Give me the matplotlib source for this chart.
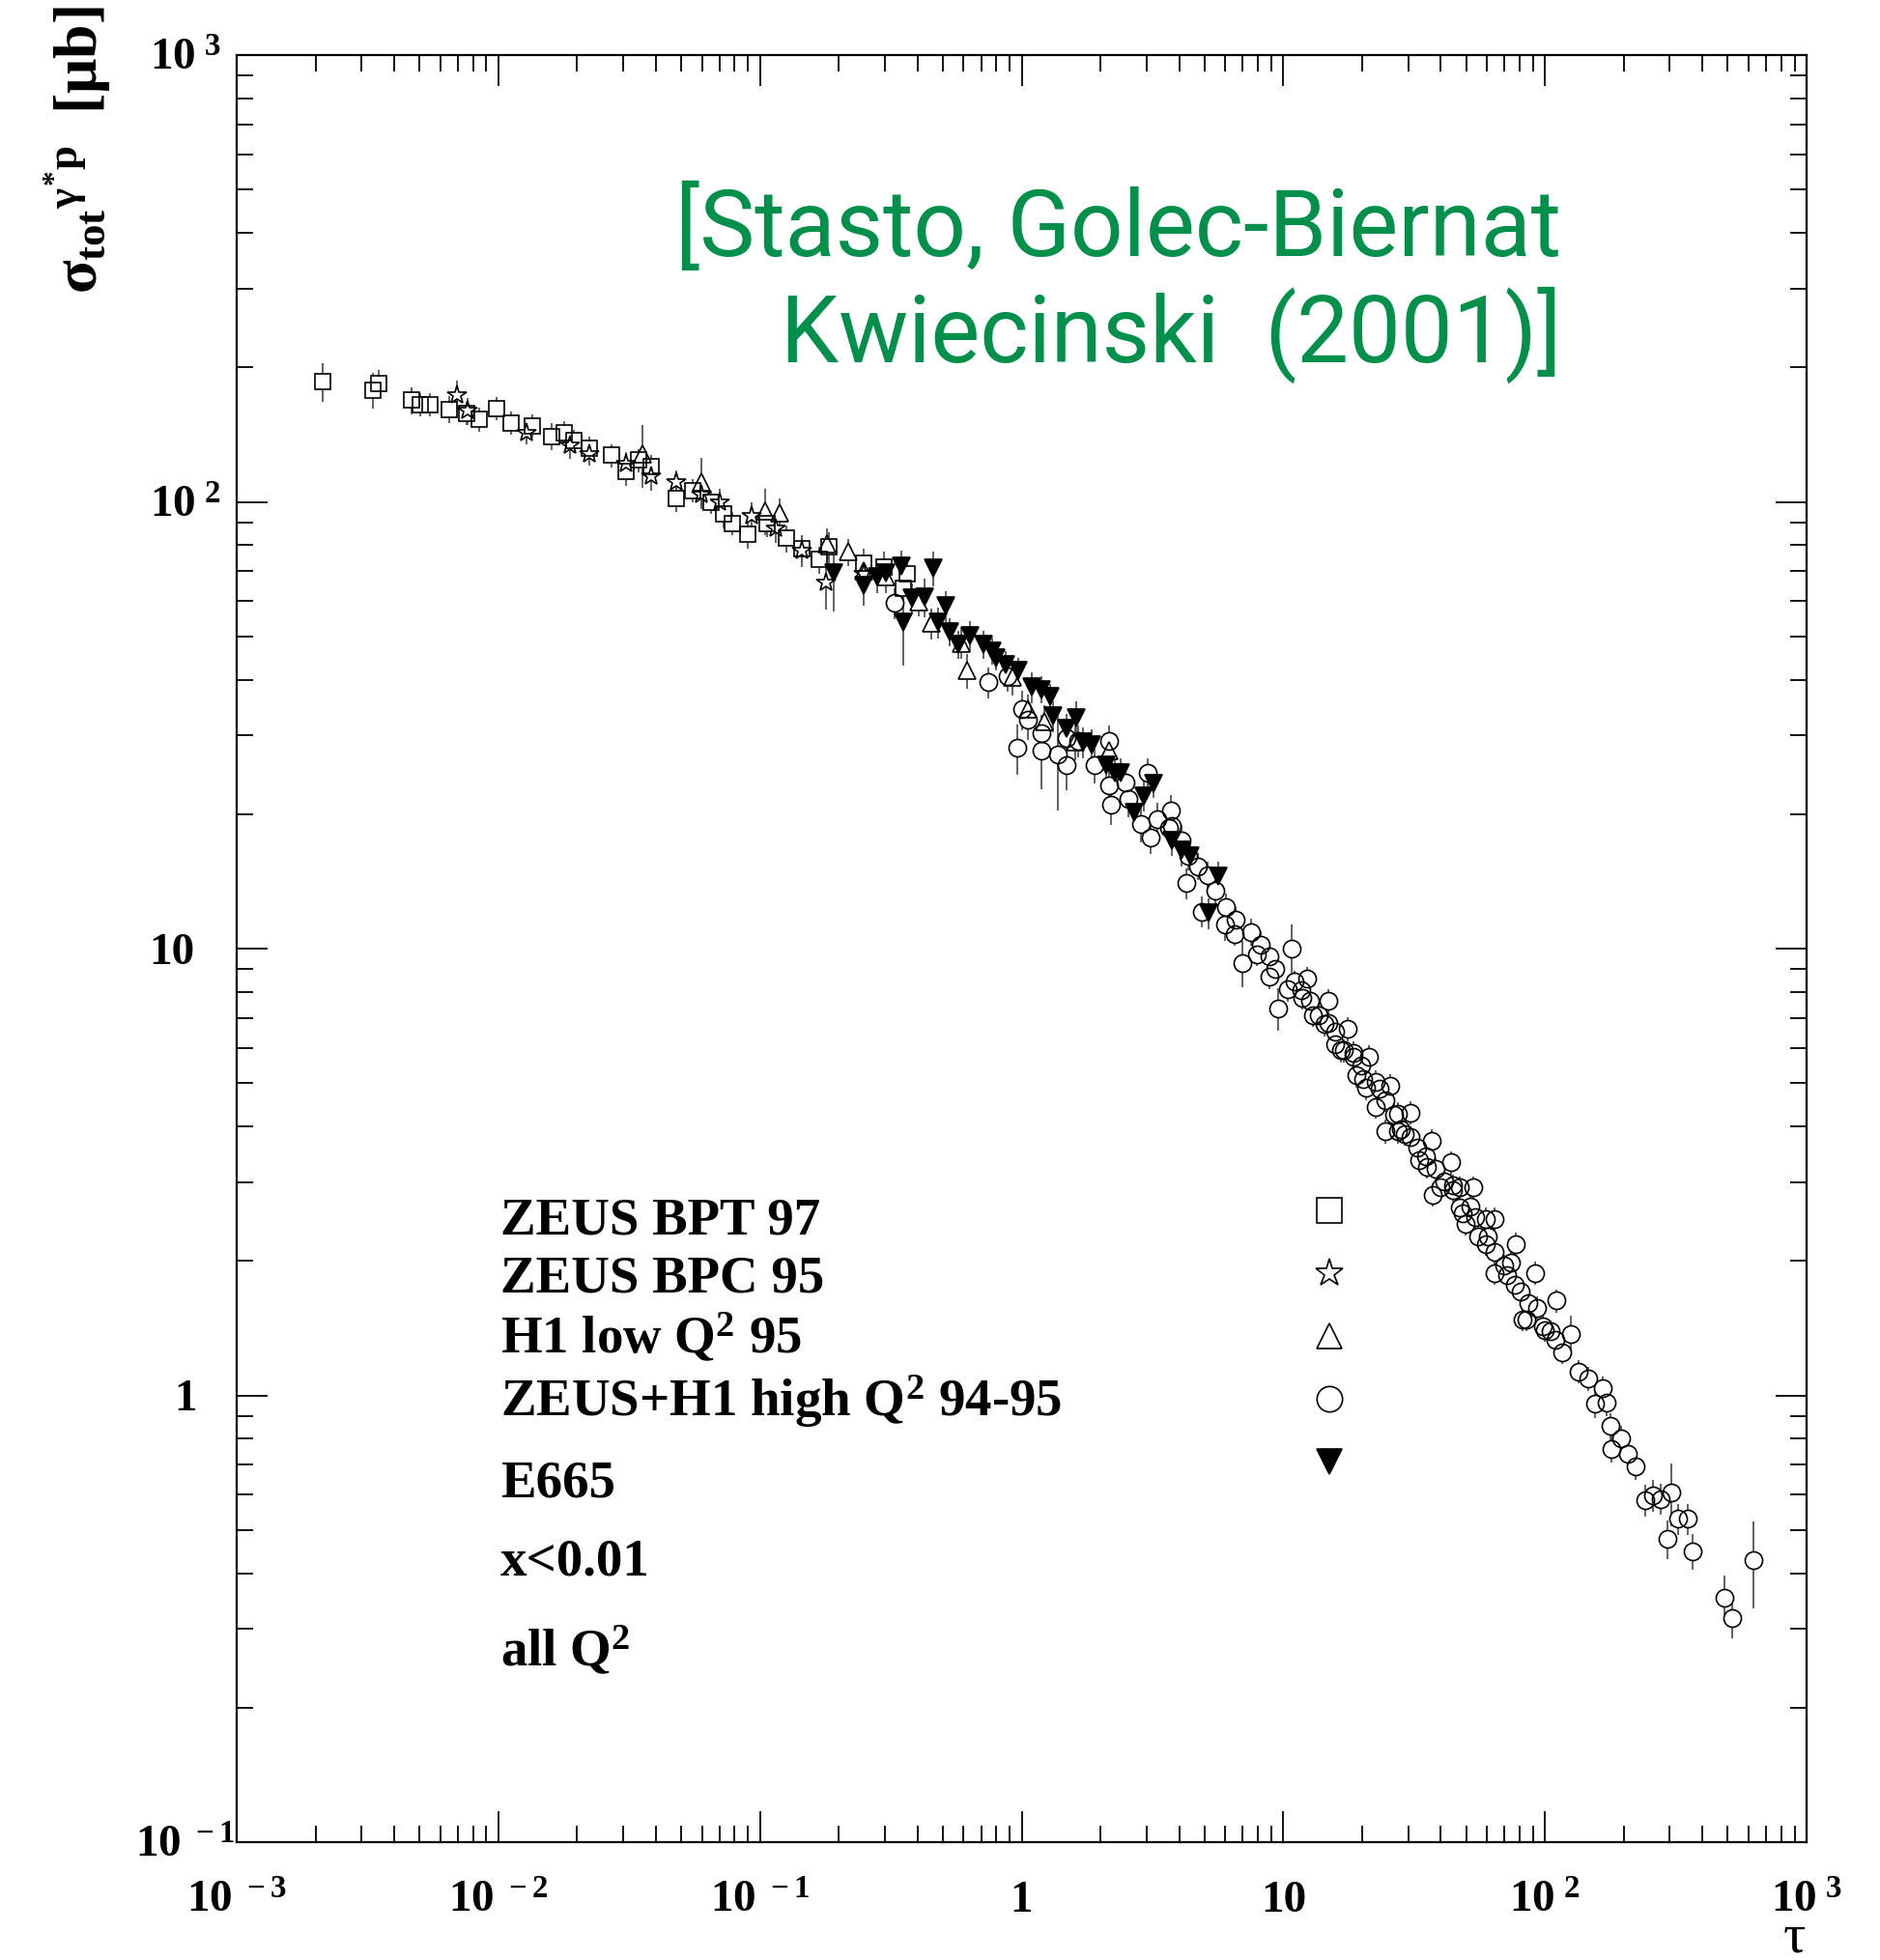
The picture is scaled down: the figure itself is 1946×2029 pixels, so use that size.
import numpy as np
import matplotlib
matplotlib.use("Agg")
import matplotlib.pyplot as plt
import matplotlib.transforms as mtransforms
from matplotlib.lines import Line2D
from matplotlib.ticker import LogLocator, NullFormatter

plt.rcParams["font.family"] = ["Liberation Serif", "DejaVu Serif"]
plt.rcParams["font.weight"] = "bold"
plt.rcParams["mathtext.fontset"] = "custom"
plt.rcParams["mathtext.rm"] = "Liberation Serif:bold"
plt.rcParams["mathtext.it"] = "Liberation Serif:bold"
plt.rcParams["mathtext.bf"] = "Liberation Serif:bold"

# ZEUS BPT 97 (open squares)
sq_tau = [0.00213, 0.00331, 0.00350, 0.00466, 0.00503, 0.00549, 0.00648, 0.00755, 0.00843, 0.00984,
          0.0112, 0.0135, 0.0160, 0.0178, 0.0194, 0.0222, 0.0270, 0.0308, 0.0344, 0.0385,
          0.0479, 0.0552, 0.0651, 0.0727, 0.0785, 0.0896, 0.106, 0.126, 0.144, 0.169,
          0.183, 0.249, 0.297, 0.354, 0.366]
sq_sig = [186, 178, 184, 169, 165, 165, 161, 158, 153, 162,
          150, 148, 140, 143, 137, 132, 127, 117, 124, 120,
          102, 106, 100, 94, 89.5, 84.5, 89.5, 82.8, 78.7, 74.3,
          79.2, 72.8, 71.5, 64, 69]
sq_err = [0.10, 0.09, 0.07, 0.07, 0.06, 0.06, 0.07, 0.06, 0.06, 0.06,
          0.06, 0.06, 0.07, 0.06, 0.06, 0.06, 0.06, 0.07, 0.06, 0.06,
          0.07, 0.06, 0.06, 0.07, 0.06, 0.07, 0.07, 0.07, 0.07, 0.07,
          0.08, 0.08, 0.08, 0.08, 0.08]

# ZEUS BPC 95 (open stars)
st_tau = [0.00692, 0.00764, 0.0128, 0.0188, 0.0222, 0.0308, 0.0385, 0.0479, 0.0598, 0.0703,
          0.0927, 0.115, 0.144, 0.179, 0.249]
st_sig = [173, 160, 143, 134, 128, 122, 114, 111, 104, 100,
          93, 87, 77.6, 66, 69]
st_err = [0.08, 0.07, 0.06, 0.07, 0.06, 0.06, 0.07, 0.06, 0.06, 0.07,
          0.07, 0.07, 0.08, 0.13, 0.08]

# H1 low Q2 95 (open triangles)
tr_tau = [0.0356, 0.0598, 0.1045, 0.119, 0.181, 0.218, 0.249, 0.303, 0.404, 0.451,
          0.586, 0.619, 0.921, 1.06, 1.22, 1.60, 2.15]
tr_sig = [128, 111, 95.5, 94.3, 80.7, 77.2, 70.1, 67.9, 59.7, 53.5,
          48.3, 41.9, 40.5, 34.3, 32.2, 29.0, 27.7]
tr_err = [0.16, 0.13, 0.12, 0.08, 0.08, 0.07, 0.08, 0.08, 0.07, 0.08,
          0.08, 0.09, 0.09, 0.08, 0.09, 0.09, 0.10]

# ZEUS+H1 high Q2 94-95 (open circles)
ci_tau = [0.327, 0.746, 0.881, 0.962, 1.06, 1.19, 1.37, 1.48, 1.65, 1.90,
          2.15, 2.19, 2.50, 3.02, 3.30, 3.72, 3.76, 4.10, 4.34, 4.73,
          5.12, 5.52, 6.03, 6.58, 6.95, 7.52, 8.20, 8.85, 9.35, 9.57,
          10.8, 11.0, 11.7, 12.7, 13.7, 14.9, 15.8, 17.1, 18.5, 19.8,
          20.7, 22.5, 24.6, 24.6, 26.6, 28.1, 30.7, 32.4, 35.0, 38.2,
          41.3, 44.6, 47.1, 49.8, 52.0, 55.6, 59.3, 64.1, 64.1, 73.9,
          80.7, 82.4, 93.1, 98.4, 110, 116, 126, 134, 146, 167,
          156, 172, 178, 180, 196, 207, 222, 242, 259, 277,
          305, 322, 352, 295, 368, 484, 518, 624,
          6.52, 7.94, 8.85, 10.4, 11.8, 14.4, 16.6, 18.5, 20.2, 23.3,
          27.5, 29.0, 35.4, 37.4, 44.6, 47.1, 54.3, 60.7, 70.0, 76.4,
          85.3, 100,
          1.19, 1.00, 1.49, 2.15, 2.56, 2.86, 3.12, 3.67, 4.25, 4.90, 5.97,
          12.3, 14.9, 17.7, 21.3, 25.7, 30.7, 37.0, 43.6, 53.1, 64.1,
          77.3, 92.0, 111,
          13.0, 15.8, 19.1, 22.5, 27.5, 33.1, 39.9, 48.6, 59.3, 71.5,
          86.3, 105]
ci_sig = [59.3, 39.5, 40.8, 28.1, 32.6, 27.7, 27.2, 29.6, 29.2, 25.7,
          29.2, 21.0, 23.6, 24.7, 19.5, 20.4, 18.8, 17.5, 16.1, 15.3,
          14.6, 13.5, 12.4, 11.6, 9.29, 10.9, 10.2, 9.59, 8.99, 7.36,
          10.0, 8.43, 8.07, 7.66, 7.10, 6.82, 6.52, 5.92, 5.73, 5.48,
          4.88, 5.04, 4.58, 3.90, 4.24, 3.94, 3.78, 3.58, 3.43, 3.21,
          3.01, 2.88, 2.92, 2.42, 2.65, 2.27, 2.48, 2.09, 1.88, 1.98,
          1.71, 1.48, 1.57, 1.43, 1.33, 1.25, 1.37, 1.13, 1.09, 1.04,
          0.957, 0.964, 0.853, 0.760, 0.800, 0.740, 0.694, 0.583, 0.598, 0.587,
          0.607, 0.530, 0.530, 0.478, 0.448, 0.353, 0.318, 0.428,
          10.8, 9.71, 8.65, 8.11, 7.76, 6.77, 5.92, 5.85, 5.11, 4.85,
          4.27, 3.85, 3.25, 2.81, 2.95, 2.63, 2.50, 2.27, 1.95, 1.77,
          1.48, 1.40,
          30.4, 34.3, 25.7, 23.2, 21.6, 19.0, 17.7, 18.6, 14.0, 12.1, 11.3,
          8.59, 7.66, 6.61, 5.73, 4.94, 4.30, 3.72, 3.32, 2.92, 2.48,
          2.18, 1.88, 1.63,
          7.10, 6.11, 5.20, 4.43, 3.90, 3.36, 2.92, 2.56, 2.18, 1.86,
          1.61, 1.39]
ci_err = [0.08, 0.08, 0.08, 0.13, 0.10, 0.18, 0.25, 0.08, 0.08, 0.09,
          0.08, 0.10, 0.09, 0.08, 0.09, 0.08, 0.08, 0.08, 0.07, 0.07,
          0.07, 0.07, 0.07, 0.07, 0.12, 0.07, 0.07, 0.06, 0.06, 0.11,
          0.13, 0.06, 0.06, 0.06, 0.06, 0.06, 0.06, 0.06, 0.06, 0.06,
          0.06, 0.06, 0.06, 0.06, 0.06, 0.06, 0.06, 0.06, 0.06, 0.06,
          0.06, 0.06, 0.06, 0.06, 0.06, 0.06, 0.06, 0.06, 0.06, 0.06,
          0.06, 0.06, 0.06, 0.06, 0.06, 0.06, 0.10, 0.06, 0.06, 0.06,
          0.07, 0.07, 0.07, 0.07, 0.07, 0.07, 0.07, 0.08, 0.08, 0.08,
          0.16, 0.08, 0.08, 0.10, 0.09, 0.12, 0.10, 0.22,
          0.06, 0.06, 0.06, 0.06, 0.06, 0.06, 0.06, 0.06, 0.06, 0.06,
          0.06, 0.06, 0.06, 0.06, 0.06, 0.06, 0.06, 0.06, 0.06, 0.06,
          0.06, 0.06,
          0.10, 0.10, 0.12, 0.10, 0.09, 0.09, 0.08, 0.08, 0.08, 0.08, 0.08,
          0.06, 0.06, 0.06, 0.06, 0.06, 0.06, 0.06, 0.06, 0.06, 0.06,
          0.06, 0.06, 0.06,
          0.06, 0.06, 0.06, 0.06, 0.06, 0.06, 0.06, 0.06, 0.06, 0.06,
          0.06, 0.06]

# E665 (filled down triangles)
e6_tau = [0.191, 0.249, 0.281, 0.303, 0.346, 0.460, 0.354, 0.382, 0.427, 0.514,
          0.481, 0.531, 0.574, 0.634, 0.714, 0.773, 0.798, 0.871, 0.973, 1.09,
          1.19, 1.29, 1.32, 1.49, 1.61, 1.72, 1.86, 2.10, 2.27, 2.39,
          2.70, 2.92, 3.19, 3.76, 4.10, 4.39, 5.65, 5.17]
e6_sig = [69.2, 64.9, 67.9, 69.2, 71.9, 71.0, 53.8, 60.8, 61.2, 58.5,
          53.8, 51.2, 48.0, 50.1, 48.0, 46.4, 44.7, 43.3, 41.9, 38.5,
          38.0, 36.6, 33.2, 31.1, 32.8, 29.0, 28.6, 25.8, 24.7, 24.7,
          20.2, 22.0, 23.4, 17.5, 16.6, 16.1, 14.5, 12.0]
e6_err = [0.18, 0.10, 0.08, 0.08, 0.08, 0.09, 0.20, 0.08, 0.10, 0.08,
          0.08, 0.07, 0.07, 0.08, 0.07, 0.07, 0.06, 0.07, 0.07, 0.08,
          0.07, 0.07, 0.08, 0.08, 0.09, 0.08, 0.08, 0.08, 0.08, 0.08,
          0.08, 0.08, 0.07, 0.08, 0.08, 0.07, 0.08, 0.08]

legend_names = ["ZEUS BPT 97", "ZEUS BPC 95", "H1 low Q$^2$ 95",
                "ZEUS+H1 high Q$^2$ 94-95", "E665"]
notes = ["x<0.01", "all Q$^2$"]

x_major = [1e-3, 1e-2, 1e-1, 1, 10, 1e2, 1e3]
x_labels = [r"$10^{\ -3}$", r"$10^{\ -2}$", r"$10^{\ -1}$", "1", "10", r"$10^{\ 2}$", r"$10^{\ 3}$"]
y_major = [1e-1, 1, 10, 1e2, 1e3]
y_labels = [r"$10^{\ -1}$", "1", "10", r"$10^{\ 2}$", r"$10^{\ 3}$"]

series = [
    (sq_tau, sq_sig, sq_err, "s", 12, False),
    (st_tau, st_sig, st_err, "*", 15, False),
    (tr_tau, tr_sig, tr_err, "^", 12.5, False),
    (ci_tau, ci_sig, ci_err, "o", 13, False),
    (e6_tau, e6_sig, e6_err, "v", 12.5, True),
]

fig = plt.figure(figsize=(19.46, 20.29), dpi=100)
ax = fig.add_axes([245 / 1946, 1 - 1907 / 2029, 1625 / 1946, 1850 / 2029])
ax.set_xscale("log")
ax.set_yscale("log")

# error bars first, then white marker bodies, then outlines on top
for tau, sig, rel, m, ms, filled in series:
    sig = np.array(sig)
    ax.errorbar(tau, sig, yerr=np.array(rel) * sig, fmt="none", ecolor="#555555",
                elinewidth=1.3, capsize=0, zorder=2)
for tau, sig, rel, m, ms, filled in series:
    ax.plot(tau, sig, ls="none", marker=m, ms=ms, mfc="white", mec="none", zorder=3)
for tau, sig, rel, m, ms, filled in series:
    ax.plot(tau, sig, ls="none", marker=m, ms=ms, mfc="black" if filled else "none",
            mec="black", mew=1.2, zorder=4)

ax.set_xlim(1e-3, 1e3)
ax.set_ylim(1e-1, 1e3)
ax.set_xticks(x_major, x_labels)
ax.set_yticks(y_major, y_labels)
ax.xaxis.set_minor_locator(LogLocator(base=10, subs=np.arange(2, 10), numticks=50))
ax.yaxis.set_minor_locator(LogLocator(base=10, subs=np.arange(2, 10), numticks=50))
ax.xaxis.set_minor_formatter(NullFormatter())
ax.yaxis.set_minor_formatter(NullFormatter())
ax.tick_params(which="both", direction="in", top=True, right=True, width=1.3, colors="black")
ax.tick_params(which="major", length=23, labelsize=34)
ax.tick_params(which="minor", length=12)
ax.tick_params(axis="y", pad=65)
ax.tick_params(axis="x", pad=52)
for lbl in ax.get_xticklabels():
    lbl.set_verticalalignment("baseline")
for lbl in ax.get_yticklabels():
    lbl.set_horizontalalignment("left")
# ROOT-like placement: plain "1" a little to the right, "10^-1" a little to the left
ylbls = ax.get_yticklabels()
for lbl, dx in [(ylbls[0], -0.15), (ylbls[1], 0.26)]:
    lbl.set_transform(lbl.get_transform() + mtransforms.ScaledTranslation(dx, 0, fig.dpi_scale_trans))
for sp in ax.spines.values():
    sp.set_linewidth(1.6)

ax.set_xlabel("τ", fontsize=42, ha="center", va="baseline")
ax.xaxis.set_label_coords(0.992, -0.0615)
fig.text(0.041, 0.997, r"$σ_{tot}{}^{γ^{*}p}$  [μb]", rotation=90, ha="center", va="top",
         fontsize=46)

# legend block
text_y = [0.340, 0.3076, 0.2735, 0.2384, 0.1935, 0.1497, 0.0984]
for name, yy in zip(legend_names + notes, text_y):
    ax.text(0.168, yy, name, transform=ax.transAxes, fontsize=39.5, ha="left", va="baseline")

handles = [Line2D([], [], ls="none", marker=m, ms=19 if m != "*" else 21,
                  mfc="black" if filled else "none", mec="black", mew=1.2)
           for _, _, _, m, ms, filled in series]
ax.legend(handles, [""] * len(handles), loc="center", bbox_to_anchor=(0.696, 0.2816),
          frameon=False, handlelength=1.0, handletextpad=0.0, borderpad=0.0,
          fontsize=20, labelspacing=1.42)

green = "#00904c"
ax.text(0.844, 0.8876, "[Stasto, Golec-Biernat", transform=ax.transAxes, ha="right",
        va="baseline", color=green, fontsize=69, family=["Roboto", "DejaVu Sans"],
        fontweight="normal")
ax.text(0.844, 0.828, "Kwiecinski  (2001)]", transform=ax.transAxes, ha="right",
        va="baseline", color=green, fontsize=69, family=["Roboto", "DejaVu Sans"],
        fontweight="normal")

fig.savefig("out.png", dpi=100, facecolor="white")
